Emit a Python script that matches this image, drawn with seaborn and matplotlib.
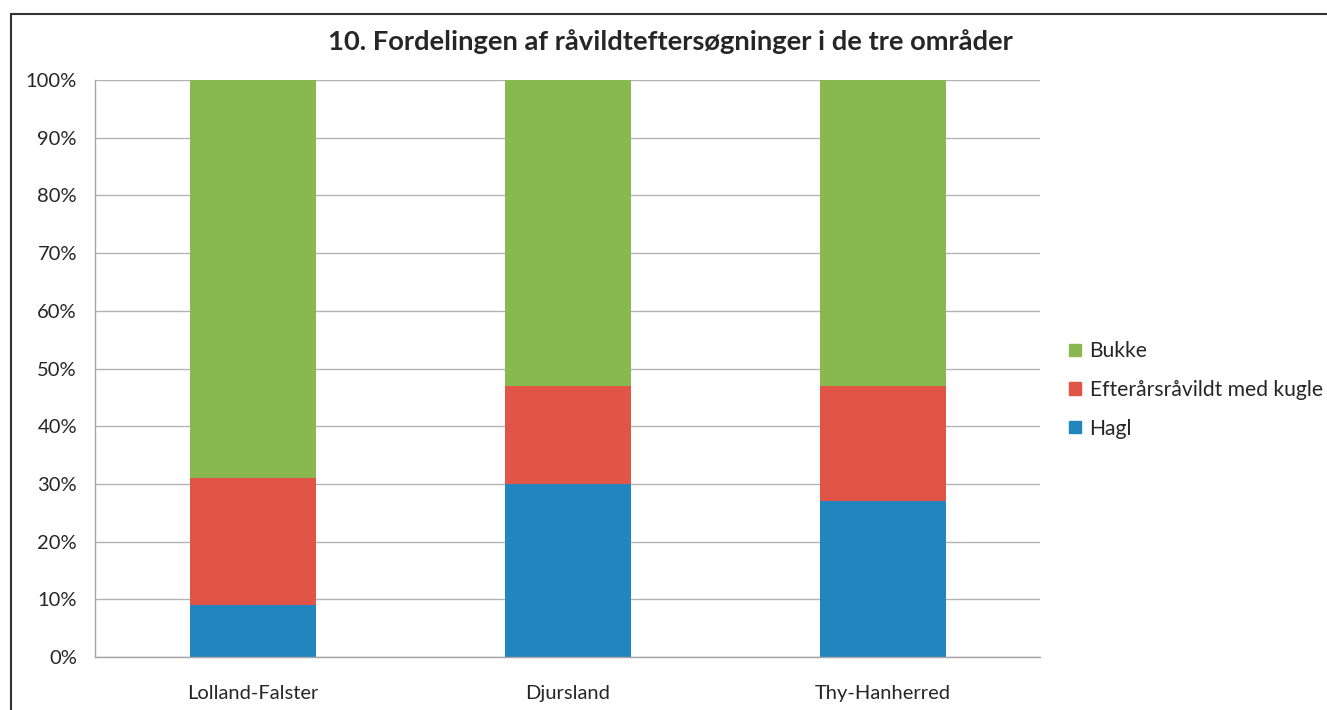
import pandas as pd
import seaborn as sns
import matplotlib.pyplot as plt
import matplotlib.patches as mpatches

areas = ['Lolland-Falster', 'Djursland', 'Thy-Hanherred']
hagl = [9, 30, 27]
kugle = [22, 17, 20]
bukke = [69, 53, 53]

series = ['Hagl', 'Efterårsråvildt med kugle', 'Bukke']
colors = {'Hagl': '#2285BE', 'Efterårsråvildt med kugle': '#E15546', 'Bukke': '#88B84F'}

df = pd.DataFrame({'area': areas, 'Hagl': hagl,
                   'Efterårsråvildt med kugle': kugle, 'Bukke': bukke})

sns.set_style('white')
plt.rcParams['font.family'] = ['Lato', 'DejaVu Sans']

fig = plt.figure(figsize=(13.27, 7.10), dpi=100)
ax = fig.add_axes([95 / 1327, 1 - 657 / 710, (1040 - 95) / 1327, (657 - 80) / 710])

bottom = pd.Series([0] * len(areas), dtype=float)
for s in series:
    sns.barplot(data=df, x='area', y=s, color=colors[s], bottom=bottom,
                width=0.4, ax=ax, saturation=1, linewidth=0)
    bottom = bottom + df[s]

ax.set_xlim(-0.5, 2.5)
ax.set_ylim(0, 100)
ax.set_yticks(range(0, 101, 10))
ax.set_yticklabels([f'{v}%' for v in range(0, 101, 10)], fontsize=14.5)
ax.set_xticks(range(len(areas)))
ax.set_xticklabels(areas, fontsize=14.5)
ax.set_xticks([-0.5, 0.5, 1.5, 2.5], minor=True)
ax.tick_params(axis='x', which='major', length=0, pad=20)
ax.tick_params(axis='x', which='minor', length=6, color='#a6a6a6', width=1, direction='out')
ax.tick_params(axis='y', length=7, color='#a6a6a6', width=1, direction='out', pad=6)
ax.set_xlabel('')
ax.set_ylabel('')

ax.yaxis.grid(True, color='#b3b3b3', linewidth=1)
ax.set_axisbelow(True)
for side in ['top', 'right']:
    ax.spines[side].set_visible(False)
for side in ['left', 'bottom']:
    ax.spines[side].set_color('#a6a6a6')
    ax.spines[side].set_linewidth(1)

handles = [mpatches.Patch(color=colors[s], label=s) for s in reversed(series)]
fig.legend(handles=handles, loc='center left', bbox_to_anchor=(1061 / 1327, 1 - 390 / 710),
           frameon=False, fontsize=15.2, handlelength=0.55, handleheight=0.55,
           handletextpad=0.4, labelspacing=0.88, borderaxespad=0, borderpad=0.4)

fig.text(670 / 1327, 1 - 42 / 710, '10. Fordelingen af råvildteftersøgninger i de tre områder',
         ha='center', va='center', fontsize=19.7, fontweight='bold')

# outer chart frame (only top and left edges are visible in the crop)
fig.patches.append(mpatches.Rectangle((11 / 1327, -0.1), 1.2, 1 - 14 / 710 + 0.1,
                                      transform=fig.transFigure, fill=False,
                                      edgecolor='#333333', linewidth=1.5))

fig.savefig('out.png', dpi=100)
